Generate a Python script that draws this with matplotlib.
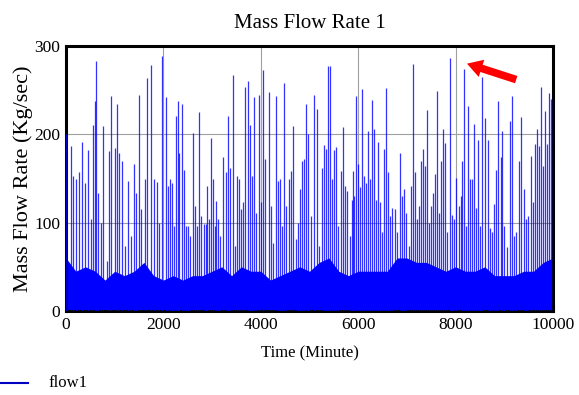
import numpy as np
import matplotlib.pyplot as plt
from matplotlib.lines import Line2D

# tall / medium spikes: time (minute) and peak value (kg/sec)
spike_t = [0, 110, 150, 205, 260, 330, 383, 450, 506, 547, 588, 616, 657, 711, 766, 835,
           890, 917, 999, 1040, 1094, 1150, 1204, 1272, 1340, 1395, 1437, 1491, 1546, 1614,
           1669, 1745, 1800, 1868, 1909, 1978, 2046, 2087, 2128, 2169, 2210, 2265, 2292,
           2320, 2374, 2429, 2470, 2511, 2552, 2607, 2648, 2689, 2730, 2771, 2826, 2867,
           2894, 2935, 2976, 3018, 3059, 3086, 3127, 3168, 3223, 3278, 3332, 3367, 3422,
           3463, 3504, 3545, 3600, 3641, 3682, 3737, 3778, 3819, 3860, 3901, 3956, 3997,
           4038, 4079, 4161, 4216, 4257, 4312, 4353, 4394, 4435, 4476, 4517, 4572, 4613,
           4667, 4722, 4763, 4804, 4845, 4886, 4927, 4968, 5030, 5085, 5153, 5194, 5249,
           5290, 5331, 5386, 5427, 5454, 5495, 5550, 5591, 5646, 5687, 5728, 5769, 5824,
           5865, 5892, 5920, 5961, 6002, 6029, 6070, 6111, 6152, 6193, 6234, 6275, 6316,
           6357, 6412, 6453, 6494, 6535, 6576, 6617, 6658, 6693, 6748, 6802, 6857, 6898,
           6939, 6980, 7035, 7076, 7131, 7172, 7213, 7254, 7295, 7336, 7377, 7405, 7446,
           7501, 7542, 7583, 7624, 7665, 7706, 7733, 7774, 7815, 7884, 7925, 7966, 8007,
           8062, 8103, 8130, 8171, 8212, 8253, 8294, 8342, 8370, 8411, 8465, 8507, 8548,
           8602, 8657, 8698, 8739, 8794, 8835, 8876, 8930, 8958, 8999, 9054, 9108, 9163,
           9204, 9245, 9313, 9354, 9396, 9437, 9491, 9546, 9587, 9641, 9682, 9723, 9764,
           9805, 9846, 9887, 9928, 9969, 9995]
spike_v = [200, 187, 153, 149, 157, 191, 145, 182, 104, 211, 238, 283, 134, 100, 210, 57,
           181, 243, 184, 234, 179, 170, 74, 147, 85, 166, 134, 245, 115, 149,
           264, 279, 149, 146, 100, 289, 242, 142, 149, 145, 96, 221, 238,
           179, 234, 160, 96, 96, 85, 201, 119, 96, 225, 108, 98, 98,
           142, 104, 196, 149, 96, 125, 104, 85, 174, 157, 221, 162, 267,
           74, 153, 149, 115, 123, 254, 260, 211, 153, 242, 111, 244, 123,
           273, 172, 248, 119, 77, 243, 147, 149, 96, 258, 119, 149, 158,
           209, 81, 100, 138, 170, 172, 234, 200, 108, 245, 229, 74, 162,
           188, 183, 277, 277, 149, 182, 186, 96, 158, 208, 142, 136, 85,
           126, 158, 130, 243, 166, 140, 251, 153, 145, 204, 149, 239, 206,
           126, 191, 123, 89, 183, 253, 157, 108, 117, 115, 89, 179, 130,
           138, 111, 74, 142, 280, 157, 104, 119, 170, 183, 164, 228, 100,
           119, 134, 155, 249, 111, 170, 206, 190, 89, 286, 109, 104, 151,
           119, 130, 170, 274, 96, 232, 149, 149, 212, 117, 194, 96, 265,
           219, 194, 94, 89, 121, 160, 238, 174, 204, 96, 72, 215, 243,
           85, 89, 170, 220, 138, 104, 108, 175, 123, 189, 206, 187, 254,
           164, 226, 189, 247, 240, 240]

# top of the solid dense band, read every 200 minutes
band_t = list(range(0, 10001, 200))
band_v = [60, 45, 50, 45, 35, 45, 40, 45, 55, 40, 35, 40, 35, 40, 40, 45, 50, 40, 50,
          45, 45, 35, 40, 45, 50, 45, 55, 60, 45, 40, 45, 45, 45, 45, 60, 60, 55, 55,
          50, 45, 50, 45, 45, 50, 40, 40, 40, 45, 45, 55, 60]

blue = "#0000ff"
serif = "Liberation Serif"

fig = plt.figure(figsize=(5.79, 3.95), dpi=100)
ax = fig.add_axes([0.114, 0.2127, 0.841, 0.6708])

ax.fill_between(band_t, 0, band_v, color=blue, linewidth=0, zorder=2)
ax.vlines(spike_t, 0, spike_v, color=blue, linewidth=0.9, alpha=0.8, zorder=3)

ax.set_xlim(0, 10000)
ax.set_ylim(0, 300)
ax.set_xticks([0, 2000, 4000, 6000, 8000, 10000])
ax.set_yticks([0, 100, 200, 300])
ax.grid(True, color="#a0a0a0", linewidth=0.8, zorder=1)
ax.tick_params(length=0, labelsize=12.5, pad=4)
for lab in ax.get_xticklabels() + ax.get_yticklabels():
    lab.set_family(serif)
for s in ax.spines.values():
    s.set_linewidth(2.2)

ax.set_title("Mass Flow Rate 1", family=serif, fontsize=15, pad=13)
ax.set_ylabel("Mass Flow Rate (Kg/sec)", family=serif, fontsize=16, labelpad=1)
ax.set_xlabel("Time (Minute)", family=serif, fontsize=12, labelpad=9)

# red arrow pointing at the highest peak
ax.annotate("", xy=(8180, 281), xytext=(9300, 261),
            arrowprops=dict(arrowstyle="simple,head_width=1.3,head_length=1.1,tail_width=0.55",
                            color="#ff0000", linewidth=0),
            annotation_clip=False, zorder=5)

# legend below the plot, bottom-left corner
fig.add_artist(Line2D([0.0, 28 / 579], [1 - 383 / 395] * 2, color="#0000c0",
                      linewidth=1.5, transform=fig.transFigure))
fig.text(48 / 579, 1 - 383 / 395, "flow1", family=serif, fontsize=12, va="center")

fig.savefig("out.png", dpi=100)
